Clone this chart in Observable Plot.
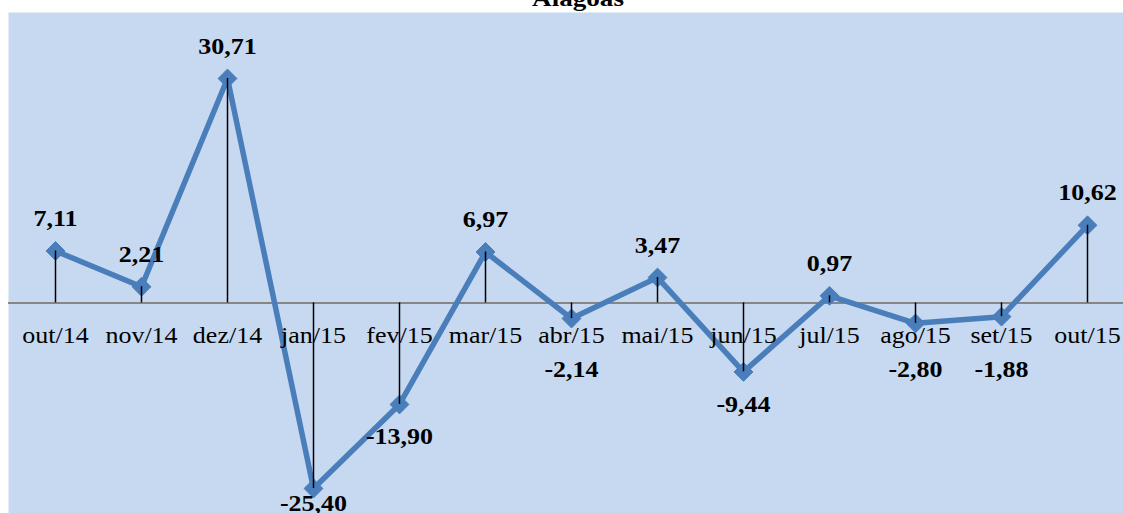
<!DOCTYPE html>
<html>
<head>
<meta charset="utf-8">
<script src="https://cdn.jsdelivr.net/npm/d3@7"></script>
<script src="https://cdn.jsdelivr.net/npm/@observablehq/plot@0.6"></script>
<style>
  html, body { margin: 0; padding: 0; background: #ffffff; }
  #chart { width: 1123px; height: 513px; overflow: hidden; }
</style>
</head>
<body>
<div id="chart"></div>
<script>
// ---- data ----
const title = "Alagoas";
const months = ["out/14","nov/14","dez/14","jan/15","fev/15","mar/15","abr/15","mai/15","jun/15","jul/15","ago/15","set/15","out/15"];
const values = [7.11, 2.21, 30.71, -25.40, -13.90, 6.97, -2.14, 3.47, -9.44, 0.97, -2.80, -1.88, 10.62];

const data = months.map((m, i) => ({m, v: values[i]}));
const fmt = v => v.toFixed(2).replace(".", ",");

const yOpts = {domain: [0, 30.71], range: [302.4, 78]};
const xOpts = {type: "point", domain: months, range: [50.7, 1090.7], padding: 0};
const yScale = Plot.scale({y: yOpts});

// label placement rule: positive above the marker, negative below (kept clear of the month labels)
const labelY = d => {
  const py = yScale.apply(d.v);
  const p = d.v >= 0 ? py - 25 : Math.min(Math.max(py + 40, 376), 510);
  return yScale.invert(p);
};

const FONT = "Liberation Serif, Times New Roman, serif";
const BLUE = "#4a7ebb";

const chart = Plot.plot({
  width: 1123,
  height: 513,
  marginLeft: 8,
  marginTop: 12,
  marginRight: 0,
  marginBottom: 0,
  style: {background: "#ffffff", fontFamily: FONT, color: "#000"},
  x: {...xOpts, axis: null},
  y: {...yOpts, axis: null},
  marks: [
    Plot.frame({fill: "#c6d9f0", stroke: null}),
    Plot.ruleY([0], {stroke: "#868686", strokeWidth: 2}),
    Plot.line(data, {x: "m", y: "v", stroke: BLUE, strokeWidth: 5.5, strokeLinejoin: "round"}),
    Plot.dot(data, {x: "m", y: "v", symbol: "diamond2", r: 8.5, fill: BLUE, stroke: BLUE, strokeWidth: 1}),
    Plot.ruleX(data, {x: "m", y1: 0, y2: "v", stroke: "#000", strokeWidth: 1.5}),
    Plot.text(months, {x: d => d, y: () => 0, dy: 40, lineAnchor: "bottom", fontSize: 23, fill: "#000", fontFamily: FONT}),
    Plot.text(data, {x: "m", y: labelY, text: d => fmt(d.v), lineAnchor: "bottom", fontSize: 23, fontWeight: "bold", fill: "#000", fontFamily: FONT}),
    Plot.text([title], {frameAnchor: "top", dx: 12, dy: -7, lineAnchor: "bottom", fontSize: 24, fontWeight: "bold", fill: "#000", fontFamily: FONT})
  ]
});

document.getElementById("chart").appendChild(chart);

// the reference text is rendered slightly wide; stretch glyphs horizontally
chart.querySelectorAll("text").forEach(t => {
  const L = t.getComputedTextLength();
  if (L > 0) {
    t.setAttribute("textLength", (L * 1.13).toFixed(1));
    t.setAttribute("lengthAdjust", "spacingAndGlyphs");
  }
});
</script>
</body>
</html>
